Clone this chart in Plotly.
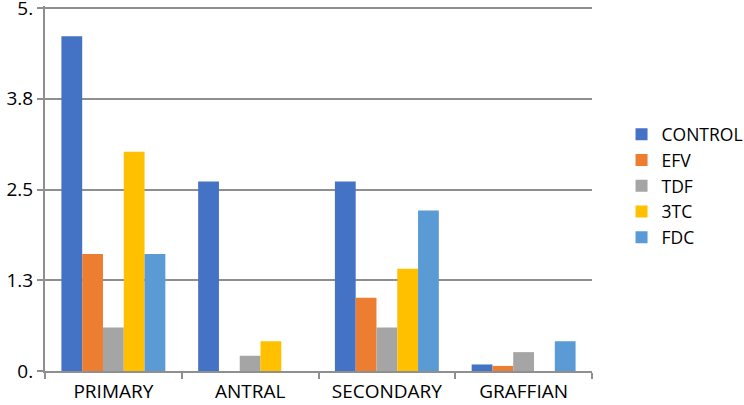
import plotly.graph_objects as go

stages = ["PRIMARY", "ANTRAL", "SECONDARY", "GRAFFIAN"]
control = [4.61, 2.61, 2.61, 0.09]
efv = [1.61, 0, 1.01, 0.07]
tdf = [0.6, 0.21, 0.6, 0.26]
tc3 = [3.02, 0.41, 1.41, 0]
fdc = [1.61, 0, 2.21, 0.41]

y_ticks = [0, 1.25, 2.5, 3.75, 5]
y_labels = ["0.", "1.3", "2.5", "3.8", "5."]

series = [
    ("CONTROL", control, "#4472C4"),
    ("EFV", efv, "#ED7D31"),
    ("TDF", tdf, "#A5A5A5"),
    ("3TC", tc3, "#FFC000"),
    ("FDC", fdc, "#5B9BD5"),
]

fig = go.Figure()
for name, vals, color in series:
    fig.add_trace(go.Bar(x=stages, y=vals, name=name, marker_color=color, marker_line_width=0))

grid = "#8f8f8f"
fig.update_layout(
    width=744,
    height=405,
    paper_bgcolor="white",
    plot_bgcolor="white",
    barmode="group",
    bargap=0.24,
    bargroupgap=0,
    font=dict(family="Open Sans, Liberation Sans, sans-serif", size=19, color="black"),
    margin=dict(l=45, r=152, t=6, b=34, autoexpand=False),
    xaxis=dict(
        showgrid=False,
        showline=True,
        linecolor=grid,
        linewidth=2,
        ticks="outside",
        tickson="boundaries",
        ticklen=6,
        tickcolor=grid,
        tickwidth=2,
        ticklabelstandoff=2,
        automargin=False,
    ),
    yaxis=dict(
        range=[0, 5.028],
        tickvals=y_ticks,
        ticktext=y_labels,
        showgrid=True,
        gridcolor=grid,
        gridwidth=2,
        showline=True,
        linecolor=grid,
        linewidth=2,
        zeroline=False,
        ticks="outside",
        ticklen=6,
        tickcolor=grid,
        tickwidth=2,
        ticklabeloverflow="allow",
        automargin=False,
    ),
    legend=dict(
        x=1.054,
        xanchor="left",
        y=0.507,
        yanchor="middle",
        font=dict(size=17.5),
        itemwidth=30,
        tracegroupgap=0,
    ),
)

# drop the default 8px body margin so the figure sits at the page corner
fig.write_html(
    "out.html",
    config={"displayModeBar": False},
    post_script="document.body.style.margin = '0';",
)
